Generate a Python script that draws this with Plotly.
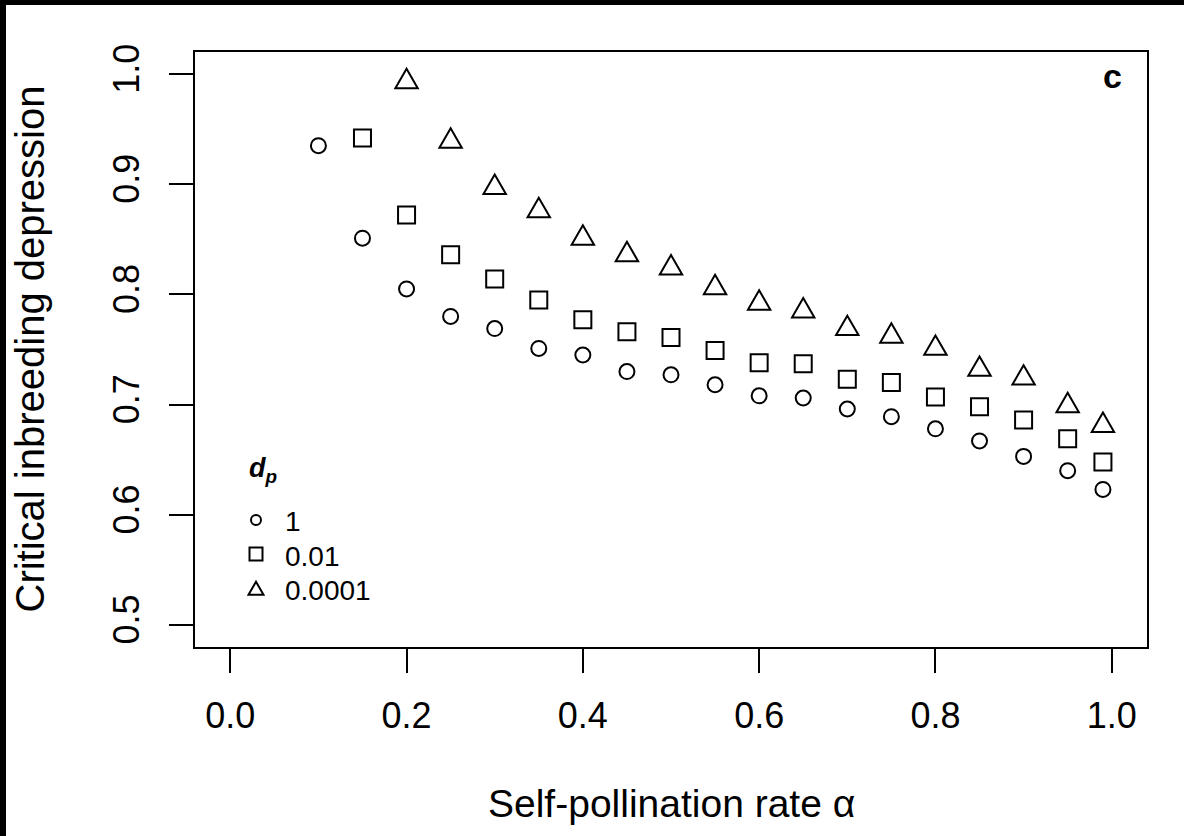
import plotly.graph_objects as go

# Self-pollination rate (alpha) for each d_p series
alpha_dp1 = [0.10, 0.15, 0.20, 0.25, 0.30, 0.35, 0.40, 0.45, 0.50, 0.55,
             0.60, 0.65, 0.70, 0.75, 0.80, 0.85, 0.90, 0.95, 0.99]
alpha_dp001 = [0.15, 0.20, 0.25, 0.30, 0.35, 0.40, 0.45, 0.50, 0.55,
               0.60, 0.65, 0.70, 0.75, 0.80, 0.85, 0.90, 0.95, 0.99]
alpha_dp00001 = [0.20, 0.25, 0.30, 0.35, 0.40, 0.45, 0.50, 0.55,
                 0.60, 0.65, 0.70, 0.75, 0.80, 0.85, 0.90, 0.95, 0.99]

# Critical inbreeding depression
crit_dp1 = [0.935, 0.851, 0.805, 0.780, 0.769, 0.751, 0.745, 0.730, 0.727, 0.718,
            0.708, 0.706, 0.696, 0.689, 0.678, 0.667, 0.653, 0.640, 0.623]
crit_dp001 = [0.942, 0.872, 0.836, 0.814, 0.795, 0.777, 0.766, 0.761, 0.749,
              0.738, 0.737, 0.723, 0.720, 0.707, 0.698, 0.686, 0.669, 0.648]
crit_dp00001 = [0.993, 0.939, 0.897, 0.876, 0.851, 0.836, 0.824, 0.806,
                0.792, 0.785, 0.769, 0.762, 0.751, 0.732, 0.724, 0.699, 0.681]

legend_labels = ["1", "0.01", "0.0001"]

x_ticks = [0.0, 0.2, 0.4, 0.6, 0.8, 1.0]
x_ticktext = ["0.0", "0.2", "0.4", "0.6", "0.8", "1.0"]
y_ticks = [0.5, 0.6, 0.7, 0.8, 0.9, 1.0]
y_ticktext = ["0.5", "0.6", "0.7", "0.8", "0.9", "1.0"]

FONT = "Liberation Sans, Arial, Helvetica, sans-serif"
W, H = 1184, 836
ML, MR, MT, MB = 195, 37, 52, 189
PW, PH = W - ML - MR, H - MT - MB


def tri_path(half):
    """Equilateral open triangle centred on its centroid (pixel units, y up)."""
    h = half * 3 ** 0.5
    return f"M {-half},{-h / 3:.2f} L {half},{-h / 3:.2f} L 0,{2 * h / 3:.2f} Z"


fig = go.Figure()

fig.add_trace(go.Scatter(
    x=alpha_dp1, y=crit_dp1, mode="markers", name=legend_labels[0],
    marker=dict(symbol="circle-open", size=15, color="black",
                line=dict(color="black", width=2)),
    showlegend=False,
))
fig.add_trace(go.Scatter(
    x=alpha_dp001, y=crit_dp001, mode="markers", name=legend_labels[1],
    marker=dict(symbol="square-open", size=17, color="black",
                line=dict(color="black", width=2)),
    showlegend=False,
))

shapes = []
# triangles for d_p = 0.0001, anchored at the data values
for a, v in zip(alpha_dp00001, crit_dp00001):
    shapes.append(dict(
        type="path", xref="x", yref="y", xsizemode="pixel", ysizemode="pixel",
        xanchor=a, yanchor=v, path=tri_path(11.2),
        line=dict(color="black", width=2), fillcolor="rgba(0,0,0,0)",
    ))

# black frame strips along the left and top edges of the page
shapes.append(dict(type="rect", xref="paper", yref="paper",
                   xsizemode="pixel", ysizemode="pixel", xanchor=0, yanchor=0,
                   x0=-ML, x1=-ML + 6, y0=-MB, y1=PH + MT,
                   line=dict(width=0), fillcolor="black"))
shapes.append(dict(type="rect", xref="paper", yref="paper",
                   xsizemode="pixel", ysizemode="pixel", xanchor=0, yanchor=0,
                   x0=-ML, x1=PW + MR, y0=PH + MT - 5, y1=PH + MT,
                   line=dict(width=0), fillcolor="black"))

# legend symbols (pixel offsets from the lower-left plot corner)
lx = 256 - ML
ly = [647 - 520, 647 - 554, 647 - 590.5]
shapes.append(dict(type="circle", xref="paper", yref="paper",
                   xsizemode="pixel", ysizemode="pixel", xanchor=0, yanchor=0,
                   x0=lx - 5, x1=lx + 5, y0=ly[0] - 5, y1=ly[0] + 5,
                   line=dict(color="black", width=2)))
shapes.append(dict(type="rect", xref="paper", yref="paper",
                   xsizemode="pixel", ysizemode="pixel", xanchor=0, yanchor=0,
                   x0=lx - 6.5, x1=lx + 6.5, y0=ly[1] - 6.5, y1=ly[1] + 6.5,
                   line=dict(color="black", width=2)))
shapes.append(dict(type="path", xref="paper", yref="paper",
                   xsizemode="pixel", ysizemode="pixel",
                   xanchor=lx / PW, yanchor=ly[2] / PH, path=tri_path(7.5),
                   line=dict(color="black", width=2)))

annotations = []
label_y = [521, 556, 590.5]
for lab, py in zip(legend_labels, label_y):
    annotations.append(dict(
        text=lab, xref="paper", yref="paper",
        x=(283 - ML) / PW, y=(647 - py) / PH, xanchor="left", yanchor="middle",
        showarrow=False, font=dict(family=FONT, size=28, color="black"),
    ))
annotations.append(dict(
    text="<b><i>d</i></b><sub><b><i>p</i></b></sub>", xref="paper", yref="paper",
    x=(247 - ML) / PW, y=(647 - 470) / PH, xanchor="left", yanchor="middle",
    showarrow=False, font=dict(family=FONT, size=27, color="black"),
))
annotations.append(dict(
    text="<b>c</b>", xref="paper", yref="paper",
    x=(1112 - ML) / PW, y=(647 - 76) / PH, xanchor="center", yanchor="middle",
    showarrow=False, font=dict(family=FONT, size=34, color="black"),
))
annotations.append(dict(
    text="Self-pollination rate \u03b1", xref="paper", yref="paper",
    x=0.5, y=(647 - 803) / PH, xanchor="center", yanchor="middle",
    showarrow=False, font=dict(family=FONT, size=39, color="black"),
))
annotations.append(dict(
    text="Critical inbreeding depression", xref="paper", yref="paper",
    x=(29 - ML) / PW, y=0.5, xanchor="center", yanchor="middle", textangle=-90,
    showarrow=False, font=dict(family=FONT, size=40, color="black"),
))

axis_common = dict(
    showgrid=False, zeroline=False, showline=True, linecolor="black",
    linewidth=2, mirror=True, ticks="outside", ticklen=24, tickwidth=2,
    tickcolor="black", tickfont=dict(family=FONT, size=36, color="black"),
)

fig.update_layout(
    width=W, height=H, autosize=False,
    margin=dict(l=ML, r=MR, t=MT, b=MB, pad=0),
    paper_bgcolor="white", plot_bgcolor="white",
    showlegend=False,
    xaxis=dict(range=[-0.04, 1.04], tickvals=x_ticks, ticktext=x_ticktext,
               ticklabelstandoff=12, **axis_common),
    yaxis=dict(range=[0.48, 1.02], tickvals=y_ticks, ticktext=y_ticktext,
               tickangle=-90, ticklabelstandoff=16, **axis_common),
    shapes=shapes,
    annotations=annotations,
)

fig.write_html("out.html")
